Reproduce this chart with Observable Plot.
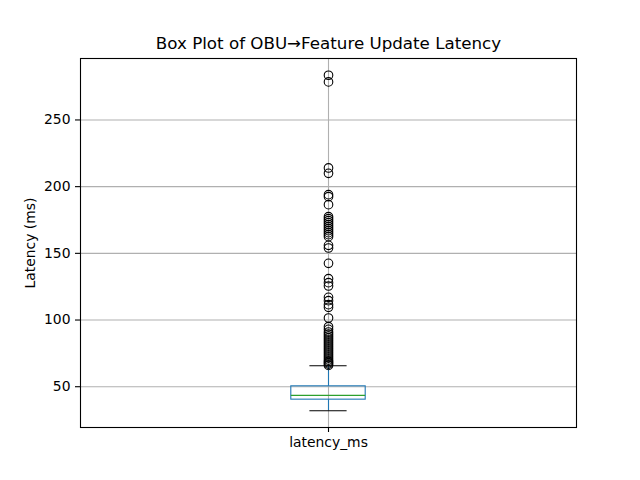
<!DOCTYPE html>
<html><head><meta charset="utf-8">
<script src="https://cdn.jsdelivr.net/npm/d3@7"></script>
<script src="https://cdn.jsdelivr.net/npm/@observablehq/plot@0.6"></script>
<style>body{margin:0;background:#fff} #chart svg{font-family:"DejaVu Sans",sans-serif;background:#fff}</style>
</head><body><div id="chart"></div>
<script>
const categories = ["latency_ms"];
const q1 = [40.3];
const median = [43.5];
const q3 = [50.3];
const whiskerLow = [32.0];
const whiskerHigh = [65.7];
const outliers = [
  283.5, 278.5,
  214, 210,
  194, 192.5, 186.5,
  177.5, 176, 174.5, 173, 171.5, 170, 168.5, 167, 165.5, 164, 162.5, 156, 154,
  142.5,
  131, 128, 125.5,
  117, 114.5, 111.5, 109.5,
  101.5,
  95, 93, 91, 89.5, 88, 86.5, 85, 83.5, 82, 80.5, 79, 77.5, 76, 74.5, 73, 71.5, 70, 69, 68, 67, 66
];
const yTicks = [50, 100, 150, 200, 250];
const title = "Box Plot of OBU\u2192Feature Update Latency";
const yLabel = "Latency (ms)";

const W = 0.15;
const stats = categories.map((c, i) => ({pos: i + 1, name: c, q1: q1[i], med: median[i], q3: q3[i], lo: whiskerLow[i], hi: whiskerHigh[i]}));
const fliers = outliers.map(v => ({pos: 1, v}));
const allVals = outliers.concat(whiskerLow, whiskerHigh);
const vmin = d3.min(allVals), vmax = d3.max(allVals);
const pad = (vmax - vmin) * 0.05;

const chart = Plot.plot({
  width: 640, height: 480,
  marginLeft: 80, marginRight: 64, marginTop: 58, marginBottom: 53,
  style: {fontSize: "13.9px", fontFamily: "DejaVu Sans, sans-serif", color: "black"},
  x: {type: "linear", domain: [0.5, 1.5]},
  y: {domain: [vmin - pad, vmax + pad]},
  marks: [
    Plot.gridY(yTicks, {stroke: "#b0b0b0", strokeOpacity: 1, strokeWidth: 1.1}),
    Plot.gridX(stats.map(d => d.pos), {stroke: "#b0b0b0", strokeOpacity: 1, strokeWidth: 1.1}),
    Plot.ruleX(stats, {x: "pos", y1: "q3", y2: "hi", stroke: "#1f77b4", strokeWidth: 1.1}),
    Plot.ruleX(stats, {x: "pos", y1: "lo", y2: "q1", stroke: "#1f77b4", strokeWidth: 1.1}),
    Plot.ruleY(stats, {y: "hi", x1: d => d.pos - W / 4, x2: d => d.pos + W / 4, stroke: "black", strokeWidth: 1.1}),
    Plot.ruleY(stats, {y: "lo", x1: d => d.pos - W / 4, x2: d => d.pos + W / 4, stroke: "black", strokeWidth: 1.1}),
    Plot.rect(stats, {x1: d => d.pos - W / 2, x2: d => d.pos + W / 2, y1: "q1", y2: "q3", fill: "none", stroke: "#1f77b4", strokeWidth: 1.1}),
    Plot.ruleY(stats, {y: "med", x1: d => d.pos - W / 2, x2: d => d.pos + W / 2, stroke: "#2ca02c", strokeWidth: 1.1}),
    Plot.dot(fliers, {x: "pos", y: "v", r: 4.3, stroke: "black", fill: "none", strokeWidth: 1.1}),
    Plot.frame({stroke: "black", strokeWidth: 1.1}),
    Plot.axisY(yTicks, {tickSize: 5, tickPadding: 5, label: null, stroke: "black", strokeWidth: 1.1, fontSize: 13.9}),
    Plot.axisX(stats.map(d => d.pos), {tickSize: 5, tickPadding: 5, label: null, tickFormat: (d) => categories[d - 1], stroke: "black", strokeWidth: 1.1, fontSize: 13.9}),
    Plot.text([yLabel], {text: d => d, frameAnchor: "left", textAnchor: "middle", dx: -50, rotate: -90, fontSize: 13.9, fill: "black"}),
    Plot.text([title], {text: d => d, frameAnchor: "top", dy: -21, fontSize: 16.7, fill: "black"})
  ]
});
document.getElementById("chart").appendChild(chart);
</script>
</body></html>
